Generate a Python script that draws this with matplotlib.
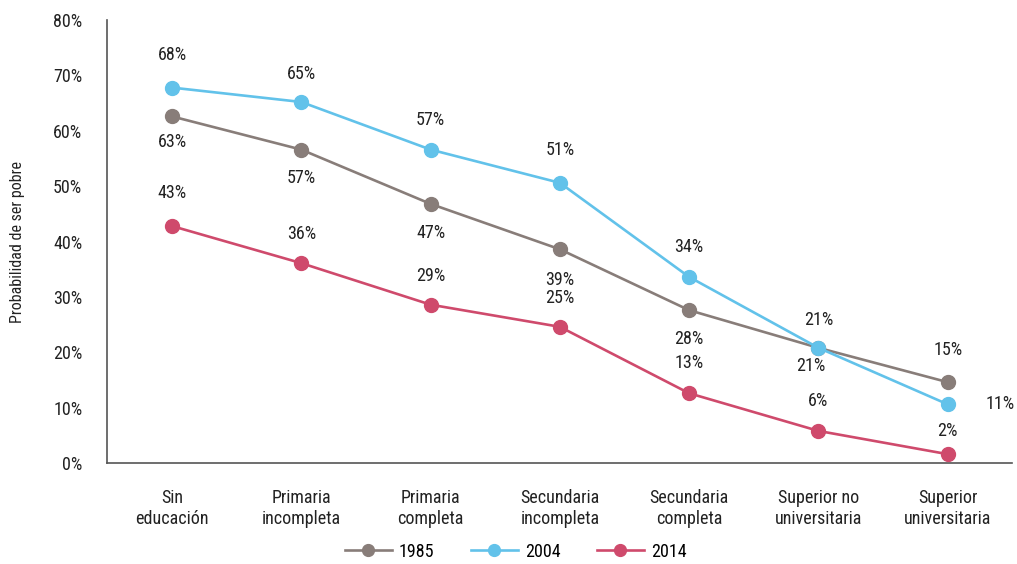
import matplotlib.pyplot as plt

# Probabilidad de ser pobre por nivel educativo
categorias = ["Sin\neducación", "Primaria\nincompleta", "Primaria\ncompleta",
              "Secundaria\nincompleta", "Secundaria\ncompleta",
              "Superior no\nuniversitaria", "Superior\nuniversitaria"]
serie_1985 = [62.6, 56.6, 46.8, 38.6, 27.6, 20.8, 14.6]
serie_2004 = [67.8, 65.2, 56.6, 50.6, 33.6, 20.8, 10.6]
serie_2014 = [42.8, 36.1, 28.6, 24.6, 12.6, 5.8, 1.6]
y_ticks = [0, 10, 20, 30, 40, 50, 60, 70, 80]

colores = {"1985": "#887d79", "2004": "#62c2ea", "2014": "#cf4a6c"}

plt.rcParams["font.family"] = ["Roboto Condensed", "DejaVu Sans"]

fig = plt.figure(figsize=(10.17, 5.64), dpi=100)
ax = fig.add_axes([0.1055, 0.179, 0.89, 0.7855])

x = list(range(len(categorias)))
series = [("1985", serie_1985), ("2004", serie_2004), ("2014", serie_2014)]
for nombre, vals in series:
    ax.plot(x, vals, color=colores[nombre], lw=1.9, marker="o", ms=10,
            label=nombre, zorder=3)

# offsets de las etiquetas (pixeles): arriba positivo, abajo negativo
px = 0.72
off_1985 = [-26, -28, -29, -31, -29, -18, 32]
off_2004 = [33, 28, 30, 33, 30, 28, None]
off_2014 = [33, 29, 29, 29, 30, 30, 23]

for vals, offs in [(serie_1985, off_1985), (serie_2004, off_2004), (serie_2014, off_2014)]:
    for i, (v, o) in enumerate(zip(vals, offs)):
        txt = f"{v:.0f}%"
        if o is None:
            ax.annotate(txt, (i, v), xytext=(52 * px, 0), textcoords="offset points",
                        ha="center", va="center", fontsize=13, color="#222222")
        else:
            dx = -8 * px if (o == -18) else 0
            ax.annotate(txt, (i, v), xytext=(dx, o * px), textcoords="offset points",
                        ha="center", va="center", fontsize=13, color="#222222")

ax.set_xlim(-0.5, 6.5)
ax.set_ylim(0, 80)
ax.set_yticks(y_ticks)
ax.set_yticklabels([f"{t}%" for t in y_ticks])
ax.set_xticks(x)
ax.set_xticklabels(categorias, linespacing=1.15)
ax.tick_params(axis="both", length=0, labelsize=13, colors="#222222")
ax.tick_params(axis="y", pad=18)
ax.tick_params(axis="x", pad=19)
for s in ["top", "right"]:
    ax.spines[s].set_visible(False)
for s in ["left", "bottom"]:
    ax.spines[s].set_color("#555555")
    ax.spines[s].set_linewidth(1.2)

ax.set_ylabel("Probabilidad de ser pobre", fontsize=11.5, color="#222222", labelpad=20)

fig.legend(loc="center", bbox_to_anchor=(0.507, 0.022), ncol=3, frameon=False,
           fontsize=13, handlelength=2.6, columnspacing=2.0, handletextpad=0.4,
           markerscale=0.85)

fig.savefig("out.png", dpi=100)
